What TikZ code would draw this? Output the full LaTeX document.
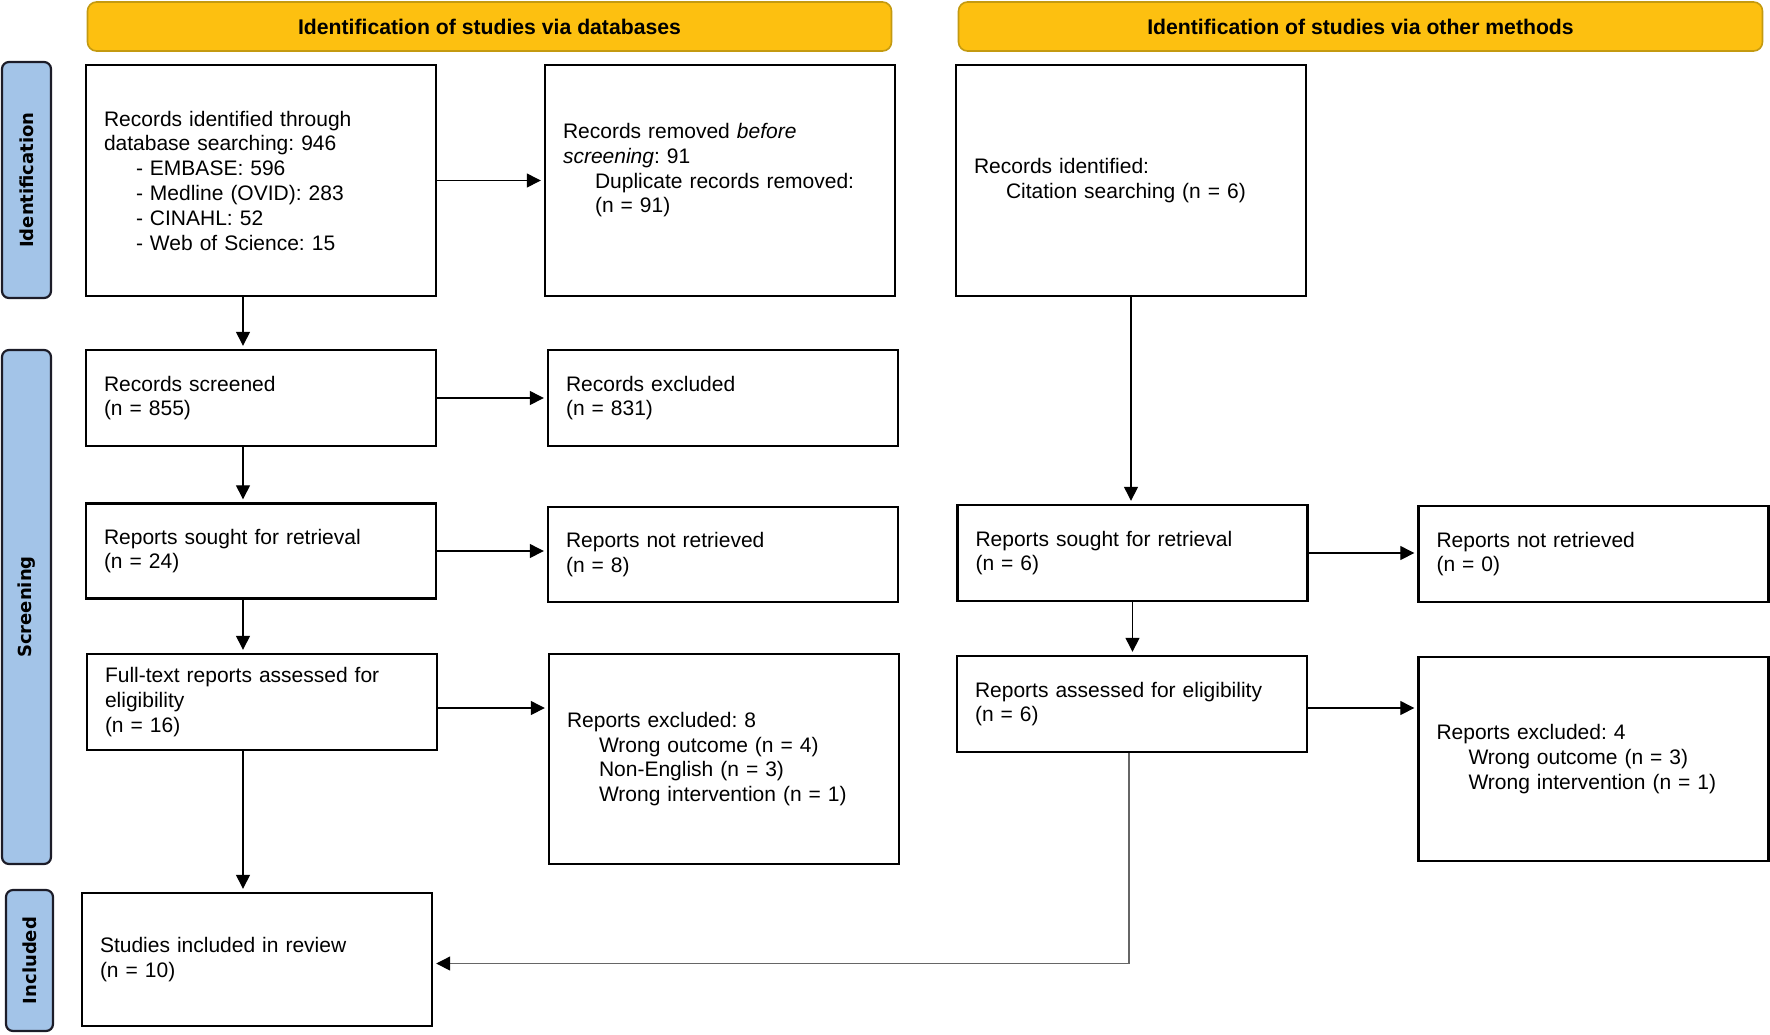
\documentclass[tikz,border=0pt]{standalone}
\usepackage{fontspec}
\setmainfont{Liberation Sans}
\newfontfamily\sidefont{DejaVu Sans}
\usetikzlibrary{arrows.meta}
\frenchspacing

\definecolor{hdrfill}{HTML}{FDC010}
\definecolor{hdrline}{HTML}{C49A10}
\definecolor{sidefill}{HTML}{A3C4E8}
\definecolor{sideline}{HTML}{1C1C28}

\begin{document}
\begin{tikzpicture}[x=0.5pt,y=-0.5pt,
    box/.style={draw, line width=1.2pt, align=left, text width=157pt,
      inner xsep=9pt, inner ysep=0pt, font=\fontsize{10.5}{12.4}\selectfont},
    hdr/.style={draw=hdrline, fill=hdrfill, line width=0.8pt, rounded corners=4.5pt,
      minimum width=402pt, minimum height=24.5pt, font=\fontsize{10.6}{12}\selectfont\bfseries},
    side/.style={draw=sideline, fill=sidefill, line width=1.1pt, rounded corners=3.5pt,
      rotate=90, minimum height=24.5pt, font=\sidefont\fontsize{9}{10}\selectfont\bfseries},
    arr/.style={-{Triangle[length=7pt,width=7pt,color=black]}, line width=0.65pt,
      shorten >=1.5pt}]
  %uncomment to see the pixel grid the layout was measured on:
  %\draw[dotted,step=100,black,very thin] (0,0) grid (1770,1034);
  \useasboundingbox (0,0) rectangle (1770,1034);

  % column headers
  \node[hdr] (hdb) at (489.5,26.5) {Identification of studies via databases};
  \node[hdr] (hoth) at (1360.5,26.5) {Identification of studies via other methods};

  % phase labels down the left side
  \node[side, minimum width=118pt] (sid) at (26.5,180) {Identification};
  \node[side, minimum width=257pt] (sscr) at (26.5,607) {Screening};
  \node[side, minimum width=70.5pt, minimum height=23.5pt] (sinc) at (29.5,960.5) {Included};

  % databases column
  \node[box, minimum height=115.5pt] (id) at (261,180.5) {Records identified through\\
    database searching: 946\\
    \hspace*{16pt}- EMBASE: 596\\
    \hspace*{16pt}- Medline (OVID): 283\\
    \hspace*{16pt}- CINAHL: 52\\
    \hspace*{16pt}- Web of Science: 15};
  \node[box, minimum height=115.5pt] (rem) at (720,180.5) {Records removed \emph{before}\\
    \emph{screening}: 91\\
    \hspace*{16pt}Duplicate records removed:\\
    \hspace*{16pt}(n = 91)\\ \mbox{}};
  \node[box, minimum height=48pt] (scr) at (261,398) {Records screened\\(n = 855)};
  \node[box, minimum height=48pt] (exc) at (723,398) {Records excluded\\(n = 831)};
  \node[box, minimum height=47.5pt] (sgt) at (261,551) {Reports sought for retrieval\\(n = 24)};
  \node[box, minimum height=47.5pt] (nrt) at (723,554.5) {Reports not retrieved\\(n = 8)};
  \node[box, minimum height=48pt] (elig) at (262,702) {Full-text reports assessed for\\
    eligibility\\(n = 16)};
  \node[box, minimum height=105pt] (rex) at (724,759) {Reports excluded: 8\\
    \hspace*{16pt}Wrong outcome (n = 4)\\
    \hspace*{16pt}Non-English (n = 3)\\
    \hspace*{16pt}Wrong intervention (n = 1)};
  \node[box, minimum height=66.5pt] (inc) at (257,959.5) {Studies included in review\\(n = 10)};

  % other methods column
  \node[box, minimum height=115.5pt] (cit) at (1131,180.5) {Records identified:\\
    \hspace*{16pt}Citation searching (n = 6)};
  \node[box, minimum height=48pt] (sgto) at (1132.5,553) {Reports sought for retrieval\\(n = 6)};
  \node[box, minimum height=48pt] (nrto) at (1593.5,554) {Reports not retrieved\\(n = 0)};
  \node[box, minimum height=48pt] (eligo) at (1132,704) {Reports assessed for eligibility\\(n = 6)};
  \node[box, minimum height=102pt] (rexo) at (1593.5,759) {Reports excluded: 4\\
    \hspace*{16pt}Wrong outcome (n = 3)\\
    \hspace*{16pt}Wrong intervention (n = 1)};

  % arrows, databases column
  \draw[arr] (id.east) -- (id.east -| rem.west);
  \draw[arr] ([xshift=-9pt]id.south) -- ([xshift=-9pt]scr.north);
  \draw[arr] (scr.east) -- (scr.east -| exc.west);
  \draw[arr] ([xshift=-9pt]scr.south) -- ([xshift=-9pt]sgt.north);
  \draw[arr] (sgt.east) -- (sgt.east -| nrt.west);
  \draw[arr] ([xshift=-9pt]sgt.south) -- ([xshift=-9pt]sgt.south |- elig.north);
  \draw[arr] ([yshift=-3pt]elig.east) -- ([yshift=-3pt]elig.east -| rex.west);
  \draw[arr] ([xshift=-9.5pt]elig.south) -- ([xshift=-9.5pt]elig.south |- inc.north);
  % arrows, other methods column
  \draw[arr] (cit.south) -- (cit.south |- sgto.north);
  \draw[arr] (sgto.east) -- (sgto.east -| nrto.west);
  \draw[arr] (sgto.south) -- (sgto.south |- eligo.north);
  \draw[arr] ([yshift=-2pt]eligo.east) -- ([yshift=-2pt]eligo.east -| rexo.west);
  % merge into the included box
  \draw[arr, gray!80!black] ([xshift=-1.5pt]eligo.south) |- ([yshift=-2pt]inc.east);
\end{tikzpicture}
\end{document}
